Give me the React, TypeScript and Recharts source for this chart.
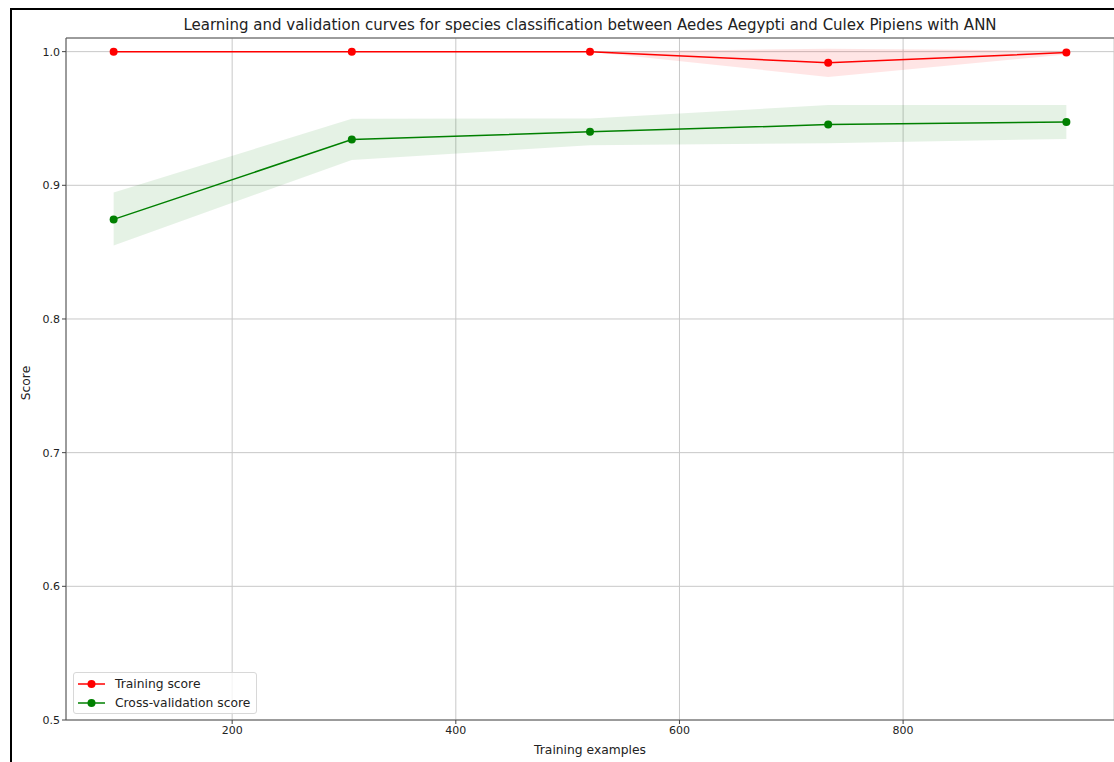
import React from "react";
import { ComposedChart, Line, Area, XAxis, YAxis, CartesianGrid, ReferenceLine } from "recharts";

const trainSizes = [94, 307, 520, 733, 946];
const trainMean = [1.0, 1.0, 1.0, 0.9916, 0.9993];
const trainLow = [1.0, 1.0, 1.0, 0.9811, 0.9979];
const trainHigh = [1.0, 1.0, 1.0, 1.0021, 1.0007];
const cvMean = [0.8745, 0.9342, 0.94, 0.9454, 0.9474];
const cvLow = [0.855, 0.919, 0.93, 0.9315, 0.9347];
const cvHigh = [0.8946, 0.9497, 0.95, 0.96, 0.96];
const xTicks = [200, 400, 600, 800];
const yTicks = [0.5, 0.6, 0.7, 0.8, 0.9, 1.0];

const data = trainSizes.map((n, i) => ({
  n,
  train: trainMean[i],
  trainBand: [trainLow[i], trainHigh[i]],
  cv: cvMean[i],
  cvBand: [cvLow[i], cvHigh[i]],
}));

const font = "'DejaVu Sans', sans-serif";
const tick = { fontSize: 11, fill: "#222", fontFamily: font };

function LegendBox() {
  const items = [
    { label: "Training score", color: "#ff0000" },
    { label: "Cross-validation score", color: "#008000" },
  ];
  return (
    <div style={{ position: "absolute", left: 73, top: 672, border: "1px solid #d8d8d8", borderRadius: 3, background: "rgba(255,255,255,0.8)", padding: "1px 6px 1px 4px", fontFamily: font, fontSize: 12.3, color: "#222" }}>
      {items.map((it) => (
        <div key={it.label} style={{ display: "flex", alignItems: "center", height: 19 }}>
          <svg width={28} height={10} style={{ marginRight: 9 }}>
            <line x1={0} y1={5} x2={27} y2={5} stroke={it.color} strokeWidth={1.5} />
            <circle cx={13.5} cy={5} r={4} fill={it.color} />
          </svg>
          <span>{it.label}</span>
        </div>
      ))}
    </div>
  );
}

export default function App() {
  return (
    <div style={{ position: "fixed", left: 0, top: 0, width: 1114, height: 762, background: "#fff", overflow: "hidden" }}>
      <div style={{ position: "absolute", left: 10, top: 8, width: 1110, height: 2, background: "#000" }} />
      <div style={{ position: "absolute", left: 10, top: 8, width: 2, height: 760, background: "#000" }} />
      <div style={{ position: "absolute", left: 66, width: 1048, top: 16, textAlign: "center", fontFamily: font, fontSize: 15, color: "#222" }}>
        Learning and validation curves for species classification between Aedes Aegypti and Culex Pipiens with ANN
      </div>
      <div style={{ position: "absolute", left: 66, width: 1048, top: 743, textAlign: "center", fontFamily: font, fontSize: 12.3, color: "#222" }}>
        Training examples
      </div>
      <div style={{ position: "absolute", left: 26, top: 383, transform: "translate(-50%, -50%) rotate(-90deg)", fontFamily: font, fontSize: 12.3, color: "#222", whiteSpace: "nowrap" }}>
        Score
      </div>
      <div style={{ position: "absolute", left: 0, top: 0 }}>
        <ComposedChart width={1114} height={762} data={data} margin={{ top: 38, right: 0, bottom: 22, left: 0 }}>
          <CartesianGrid stroke="#c8c8c8" strokeWidth={1} />
          <XAxis dataKey="n" type="number" domain={[51.4, 988.6]} ticks={xTicks} height={20} tick={tick} tickSize={4} tickLine={{ stroke: "#444" }} axisLine={{ stroke: "#555" }} allowDataOverflow />
          <YAxis type="number" domain={[0.5, 1.0102]} ticks={yTicks} width={66} tick={tick} tickSize={4} tickFormatter={(v: number) => v.toFixed(1)} tickLine={{ stroke: "#444" }} axisLine={{ stroke: "#555" }} allowDataOverflow />
          <ReferenceLine y={1.0102} stroke="#555" />
          <Area dataKey="trainBand" stroke="none" fill="#ff0000" fillOpacity={0.1} isAnimationActive={false} />
          <Area dataKey="cvBand" stroke="none" fill="#008000" fillOpacity={0.1} isAnimationActive={false} />
          <Line dataKey="train" stroke="#ff0000" strokeWidth={1.5} dot={{ r: 4, fill: "#ff0000", stroke: "none" }} isAnimationActive={false} />
          <Line dataKey="cv" stroke="#008000" strokeWidth={1.5} dot={{ r: 4, fill: "#008000", stroke: "none" }} isAnimationActive={false} />
        </ComposedChart>
      </div>
      <LegendBox />
    </div>
  );
}
